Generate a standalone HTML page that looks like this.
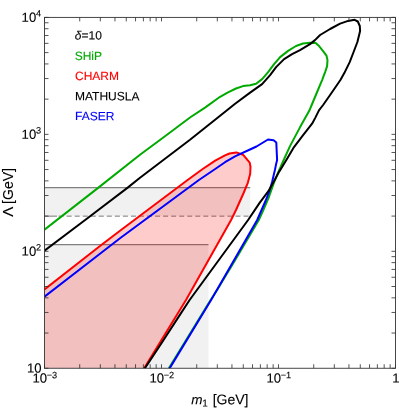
<!DOCTYPE html>
<html><head><meta charset="utf-8"><title>plot</title>
<style>
html,body{margin:0;padding:0;background:#fff;}
svg{display:block;}
text{font-family:"Liberation Sans",sans-serif;}
</style></head><body>
<svg width="399" height="408" viewBox="0 0 399 408">
<rect x="0" y="0" width="399" height="408" fill="#fff"/>
<defs><clipPath id="c"><rect x="44.5" y="17.4" width="351" height="350.85"/></clipPath></defs>

<g clip-path="url(#c)">
<rect x="44.5" y="187.4" width="205.7" height="28.69999999999999" fill="#f1f1f1"/>
<rect x="44.5" y="244.4" width="164.0" height="123.85" fill="#f1f1f1"/>
<line x1="44.5" y1="187.6" x2="250.2" y2="187.6" stroke="#808080" stroke-width="1.2"/>
<line x1="44.5" y1="244.6" x2="208.5" y2="244.6" stroke="#808080" stroke-width="1.2"/>
<line x1="44.5" y1="216.15" x2="57" y2="216.15" stroke="#787878" stroke-width="1"/><line x1="58.6" y1="216.15" x2="250.2" y2="216.15" stroke="#787878" stroke-width="1" stroke-dasharray="5 3.04"/>
<polygon points="44.5,289.4 100.0,246.0 120.0,230.8 187.6,180.0 202.7,169.0 215.2,160.7 225.0,155.4 229.5,153.5 236.3,152.4 243.0,154.7 249.7,162.6 250.5,166.8 250.2,173.8 247.9,182.6 243.6,193.0 236.0,210.0 231.1,220.0 186.0,300.0 144.0,368.6 44.5,368.6" fill="rgba(255,0,0,0.2)"/>
<polyline points="44.5,229.7 98.1,187.9 140.0,154.8 165.0,136.2 190.0,117.5 205.0,107.6 220.1,96.8 228.0,92.3 236.0,88.5 243.0,86.1 250.1,85.3 256.1,83.7 262.1,79.1 268.1,72.1 274.1,64.1 280.1,57.1 288.1,50.9 296.0,46.0 303.0,43.5 310.0,42.7 315.7,43.1 319.1,46.1 323.1,51.1 326.5,55.7 327.5,60.1 327.1,66.1 325.1,72.1 322.1,80.1 317.1,92.0 312.1,104.0 309.1,111.1 300.1,127.1 290.0,146.1 283.7,160.0 278.5,171.6 273.7,183.3 268.9,197.0 263.0,210.8 258.8,220.0 235.2,260.0 217.1,290.0 210.6,300.0 168.7,368.6" fill="none" stroke="#00aa00" stroke-width="2" stroke-linejoin="round"/>
<polyline points="44.5,289.4 100.0,246.0 120.0,230.8 187.6,180.0 202.7,169.0 215.2,160.7 225.0,155.4 229.5,153.5 236.3,152.4 243.0,154.7 249.7,162.6 250.5,166.8 250.2,173.8 247.9,182.6 243.6,193.0 236.0,210.0 231.1,220.0 186.0,300.0 144.0,368.6" fill="none" stroke="#ff0000" stroke-width="2" stroke-linejoin="round"/>
<polyline points="44.5,296.6 100.0,253.7 120.0,238.3 198.9,180.0 215.2,169.0 225.0,162.2 235.5,156.2 250.0,149.5 256.5,146.5 268.0,139.5 273.6,140.3 276.3,142.5 277.1,160.1 275.9,165.1 274.9,170.0 272.1,182.0 269.1,192.0 265.5,201.0 257.2,220.0 211.1,300.0 169.5,368.6" fill="none" stroke="#0000ff" stroke-width="2" stroke-linejoin="round"/>
<polyline points="44.5,250.6 90.1,216.2 127.7,187.6 140.0,177.8 190.0,139.8 220.1,115.8 235.1,103.8 250.1,92.6 262.1,84.1 270.1,75.1 276.1,67.1 284.1,59.1 292.1,54.2 300.0,50.1 310.0,44.1 315.0,40.1 320.1,35.0 330.1,29.0 340.1,23.6 348.1,20.9 354.6,19.8 357.8,21.5 359.8,26.0 360.1,31.0 357.4,42.0 353.4,52.5 349.7,62.1 344.3,73.1 340.4,80.0 330.1,95.0 323.1,105.0 319.1,110.1 315.1,118.1 312.1,123.7 303.1,135.1 294.0,147.1 287.1,158.8 279.2,171.6 273.3,182.4 268.4,191.2 259.6,202.9 248.1,220.0 189.6,300.0 178.4,317.1 161.6,343.0 144.7,368.6" fill="none" stroke="#000" stroke-width="2" stroke-linejoin="round"/>
</g>
<path d="M44.50,368.25v-4M44.50,17.4v4M79.72,368.25v-4M79.72,17.4v4M100.32,368.25v-4M100.32,17.4v4M114.94,368.25v-4M114.94,17.4v4M126.28,368.25v-4M126.28,17.4v4M135.54,368.25v-4M135.54,17.4v4M143.38,368.25v-4M143.38,17.4v4M150.16,368.25v-4M150.16,17.4v4M156.15,368.25v-4M156.15,17.4v4M161.50,368.25v-4M161.50,17.4v4M196.72,368.25v-4M196.72,17.4v4M217.32,368.25v-4M217.32,17.4v4M231.94,368.25v-4M231.94,17.4v4M243.28,368.25v-4M243.28,17.4v4M252.54,368.25v-4M252.54,17.4v4M260.38,368.25v-4M260.38,17.4v4M267.16,368.25v-4M267.16,17.4v4M273.15,368.25v-4M273.15,17.4v4M278.50,368.25v-4M278.50,17.4v4M313.72,368.25v-4M313.72,17.4v4M334.32,368.25v-4M334.32,17.4v4M348.94,368.25v-4M348.94,17.4v4M360.28,368.25v-4M360.28,17.4v4M369.54,368.25v-4M369.54,17.4v4M377.38,368.25v-4M377.38,17.4v4M384.16,368.25v-4M384.16,17.4v4M390.15,368.25v-4M390.15,17.4v4M395.50,368.25v-4M395.50,17.4v4M44.5,368.25h4M395.5,368.25h-4M44.5,333.04h4M395.5,333.04h-4M44.5,312.45h4M395.5,312.45h-4M44.5,297.84h4M395.5,297.84h-4M44.5,286.51h4M395.5,286.51h-4M44.5,277.25h4M395.5,277.25h-4M44.5,269.42h4M395.5,269.42h-4M44.5,262.63h4M395.5,262.63h-4M44.5,256.65h4M395.5,256.65h-4M44.5,251.30h4M395.5,251.30h-4M44.5,216.09h4M395.5,216.09h-4M44.5,195.50h4M395.5,195.50h-4M44.5,180.89h4M395.5,180.89h-4M44.5,169.56h4M395.5,169.56h-4M44.5,160.30h4M395.5,160.30h-4M44.5,152.47h4M395.5,152.47h-4M44.5,145.68h4M395.5,145.68h-4M44.5,139.70h4M395.5,139.70h-4M44.5,134.35h4M395.5,134.35h-4M44.5,99.14h4M395.5,99.14h-4M44.5,78.55h4M395.5,78.55h-4M44.5,63.94h4M395.5,63.94h-4M44.5,52.61h4M395.5,52.61h-4M44.5,43.35h4M395.5,43.35h-4M44.5,35.52h4M395.5,35.52h-4M44.5,28.73h4M395.5,28.73h-4M44.5,22.75h4M395.5,22.75h-4M44.5,17.40h4M395.5,17.40h-4" stroke="#2a2a2a" stroke-width="0.8" fill="none"/>
<rect x="44.5" y="17.4" width="351.0" height="350.85" fill="none" stroke="#333" stroke-width="0.9"/>
<defs><filter id="gf" filterUnits="userSpaceOnUse" x="0" y="0" width="399" height="408"><feOffset dx="0" dy="0"/></filter></defs>
<g filter="url(#gf)">
<text transform="translate(36.20,21.75) rotate(0.1)" font-size="13.1" fill="#000" stroke="#000" stroke-width="0.12" text-anchor="end" >10</text><text transform="translate(36.00,16.60) rotate(0.1)" font-size="9.2" fill="#000" stroke="#000" stroke-width="0.12" text-anchor="start" >4</text>
<text transform="translate(36.20,138.70) rotate(0.1)" font-size="13.1" fill="#000" stroke="#000" stroke-width="0.12" text-anchor="end" >10</text><text transform="translate(36.00,133.55) rotate(0.1)" font-size="9.2" fill="#000" stroke="#000" stroke-width="0.12" text-anchor="start" >3</text>
<text transform="translate(36.20,255.65) rotate(0.1)" font-size="13.1" fill="#000" stroke="#000" stroke-width="0.12" text-anchor="end" >10</text><text transform="translate(36.00,250.50) rotate(0.1)" font-size="9.2" fill="#000" stroke="#000" stroke-width="0.12" text-anchor="start" >2</text>
<text transform="translate(41.60,372.60) rotate(0.1)" font-size="13.1" fill="#000" stroke="#000" stroke-width="0.12" text-anchor="end" >10</text>
<text transform="translate(32.40,382.60) rotate(0.1)" font-size="13.1" fill="#000" stroke="#000" stroke-width="0.12" text-anchor="start" >10</text><text transform="translate(46.70,378.30) rotate(0.1)" font-size="9.2" fill="#000" stroke="#000" stroke-width="0.12" text-anchor="start" >−3</text>
<text transform="translate(149.40,382.60) rotate(0.1)" font-size="13.1" fill="#000" stroke="#000" stroke-width="0.12" text-anchor="start" >10</text><text transform="translate(163.70,378.30) rotate(0.1)" font-size="9.2" fill="#000" stroke="#000" stroke-width="0.12" text-anchor="start" >−2</text>
<text transform="translate(266.40,382.60) rotate(0.1)" font-size="13.1" fill="#000" stroke="#000" stroke-width="0.12" text-anchor="start" >10</text><text transform="translate(280.70,378.30) rotate(0.1)" font-size="9.2" fill="#000" stroke="#000" stroke-width="0.12" text-anchor="start" >−1</text>
<text transform="translate(395.90,382.60) rotate(0.1)" font-size="13.1" fill="#000" stroke="#000" stroke-width="0.12" text-anchor="middle" >1</text>
<text transform="translate(191.30,404.30) rotate(0.1)" font-size="13.5" fill="#000" stroke="#000" stroke-width="0.12" text-anchor="start" font-style="italic">m</text>
<text transform="translate(202.20,406.40) rotate(0.1)" font-size="10" fill="#000" stroke="#000" stroke-width="0.12" text-anchor="start" >1</text>
<text transform="translate(212.70,404.30) rotate(0.1)" font-size="14" fill="#000" stroke="#000" stroke-width="0.12" text-anchor="start" >[GeV]</text>
<text transform="translate(12.90,216.70) rotate(-90)" font-size="14" fill="#000" stroke="#000" stroke-width="0.12" text-anchor="start" textLength="10" lengthAdjust="spacingAndGlyphs">Λ</text>
<text transform="translate(12.90,203.90) rotate(-90)" font-size="14" fill="#000" stroke="#000" stroke-width="0.12" text-anchor="start" >[GeV]</text>
<text transform="translate(74.80,39.40) rotate(0.1)" font-size="12" fill="#000" stroke="#000" stroke-width="0.12" text-anchor="start" ><tspan font-style="italic">δ</tspan>=10</text>
<text transform="translate(74.70,59.90) rotate(0.1)" font-size="12" fill="#00aa00" stroke="#00aa00" stroke-width="0.12" text-anchor="start" >SHiP</text>
<text transform="translate(75.00,79.90) rotate(0.1)" font-size="12" fill="#ff0000" stroke="#ff0000" stroke-width="0.12" text-anchor="start" >CHARM</text>
<text transform="translate(75.00,100.30) rotate(0.1)" font-size="12" fill="#000" stroke="#000" stroke-width="0.12" text-anchor="start" >MATHUSLA</text>
<text transform="translate(75.00,120.10) rotate(0.1)" font-size="12" fill="#0000ff" stroke="#0000ff" stroke-width="0.12" text-anchor="start" >FASER</text>
</g>
</svg></body></html>
